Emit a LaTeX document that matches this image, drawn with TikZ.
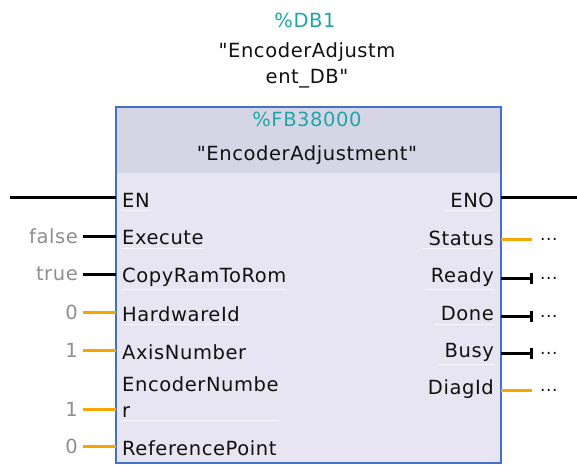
\documentclass[tikz,border=0pt]{standalone}
\usepackage{fontspec}
\setmainfont{DejaVu Sans}[LetterSpace=3, Ligatures=TeXOff]
\usetikzlibrary{arrows.meta}
\definecolor{fbteal}{HTML}{1FA6A6}
\definecolor{fbgray}{HTML}{8E8E8E}
\definecolor{fborange}{HTML}{F7A600}
\definecolor{fbbody}{HTML}{E7E5F1}
\definecolor{fbhead}{HTML}{D5D5E5}
\definecolor{fbframe}{HTML}{4470C8}
\definecolor{fbtext}{HTML}{111111}
\tikzset{
  pinlabel/.style={inner sep=0pt, text=fbtext, anchor=west},
  outlabel/.style={inner sep=0pt, text=fbtext, anchor=east},
  vallabel/.style={inner sep=0pt, text=fbgray, anchor=east},
  dots/.style={inner sep=0pt, text=fbtext, anchor=west, font=\fontsize{17}{19}\selectfont},
  boolwire/.style={draw=black, line width=3pt},
  intwire/.style={draw=fborange, line width=3pt},
  outbool/.style={boolwire, -{Bar[width=11pt,line width=3pt]}},
  sepline/.style={draw=white, draw opacity=0.75, line width=1pt},
}
\begin{document}
\begin{tikzpicture}[x=1pt,y=-1pt,font=\fontsize{19.5}{26}\selectfont]
\useasboundingbox (0,0) rectangle (577,465);

% instance data block and type name
\node[text=fbteal, inner sep=0pt] (db) at (305,20) {\%DB1};
\node[align=center, inner sep=0pt, text=fbtext] (dbname) at (307,65) {"EncoderAdjustm\\ent\_DB"};

% function block body
\fill[fbbody] (116,107) rectangle (501,463);
\fill[fbhead] (116,107) rectangle (501,173);
\draw[fbframe, line width=1.6pt] (116,107) rectangle (501,463);
\node[text=fbteal, inner sep=0pt] (fbnum) at (307,119) {\%FB38000};
\node[text=fbtext, inner sep=0pt] (fbname) at (307,155) {"EncoderAdjustment"};

% block edges for the pins
\coordinate (L) at (116,0);
\coordinate (R) at (501,0);

% input pins
\node[pinlabel] (en)   at (122,200) {EN};
\node[pinlabel] (exe)  at (122,238) {Execute};
\node[pinlabel] (copy) at (122,277) {CopyRamToRom};
\node[pinlabel] (hw)   at (122,314) {HardwareId};
\node[pinlabel] (axis) at (122,352) {AxisNumber};
\node[pinlabel, align=left] (enc) at (122,397) {EncoderNumbe\\r};
\node[pinlabel] (ref)  at (122,448) {ReferencePoint};

% input values
\node[vallabel] (vexe)  at (78,236) {false};
\node[vallabel] (vcopy) at (78,274) {true};
\node[vallabel] (vhw)   at (78,312) {0};
\node[vallabel] (vaxis) at (78,350) {1};
\node[vallabel] (venc)  at (78,409) {1};
\node[vallabel] (vref)  at (78,446) {0};

% output pins
\node[outlabel] (eno)    at (494,200) {ENO};
\node[outlabel] (status) at (494,238) {Status};
\node[outlabel] (ready)  at (494,277) {Ready};
\node[outlabel] (done)   at (494,314) {Done};
\node[outlabel] (busy)   at (494,352) {Busy};
\node[outlabel] (diag)   at (494,389) {DiagId};

% output placeholders
\node[dots] (dstatus) at (540,239) {...};
\node[dots] (dready)  at (540,278) {...};
\node[dots] (ddone)   at (540,316) {...};
\node[dots] (dbusy)   at (540,353) {...};
\node[dots] (ddiag)   at (540,390) {...};
\coordinate (enin)  at (10,197);
\coordinate (enout) at (577,197);

% pin separators
\foreach \n in {en,exe,copy,hw,enc}
  \draw[sepline] ([yshift=-3pt]\n.south west) -- ([yshift=-3pt]\n.south east);
\foreach \n in {eno,status,ready,done,busy}
  \draw[sepline] ([yshift=-3pt,xshift=-6pt]\n.south west) -- ([yshift=-3pt]\n.south east);

% input wires
\draw[boolwire] (enin) -- (enin -| L);
\draw[boolwire] ([xshift=5pt]vexe.east) -- (vexe.east -| L);
\draw[boolwire] ([xshift=5pt]vcopy.east) -- (vcopy.east -| L);
\draw[intwire] ([xshift=5pt]vhw.east) -- (vhw.east -| L);
\draw[intwire] ([xshift=5pt]vaxis.east) -- (vaxis.east -| L);
\draw[intwire] ([xshift=5pt]venc.east) -- (venc.east -| L);
\draw[intwire] ([xshift=5pt]vref.east) -- (vref.east -| L);

% output wires
\draw[boolwire] (enout -| R) -- (enout);
\draw[intwire] (dstatus.west -| R) -- ([xshift=-8pt]dstatus.west);
\draw[outbool] (dready.west -| R) -- ([xshift=-7pt]dready.west);
\draw[outbool] (ddone.west -| R) -- ([xshift=-7pt]ddone.west);
\draw[outbool] (dbusy.west -| R) -- ([xshift=-7pt]dbusy.west);
\draw[intwire] (ddiag.west -| R) -- ([xshift=-8pt]ddiag.west);
\end{tikzpicture}
\end{document}
